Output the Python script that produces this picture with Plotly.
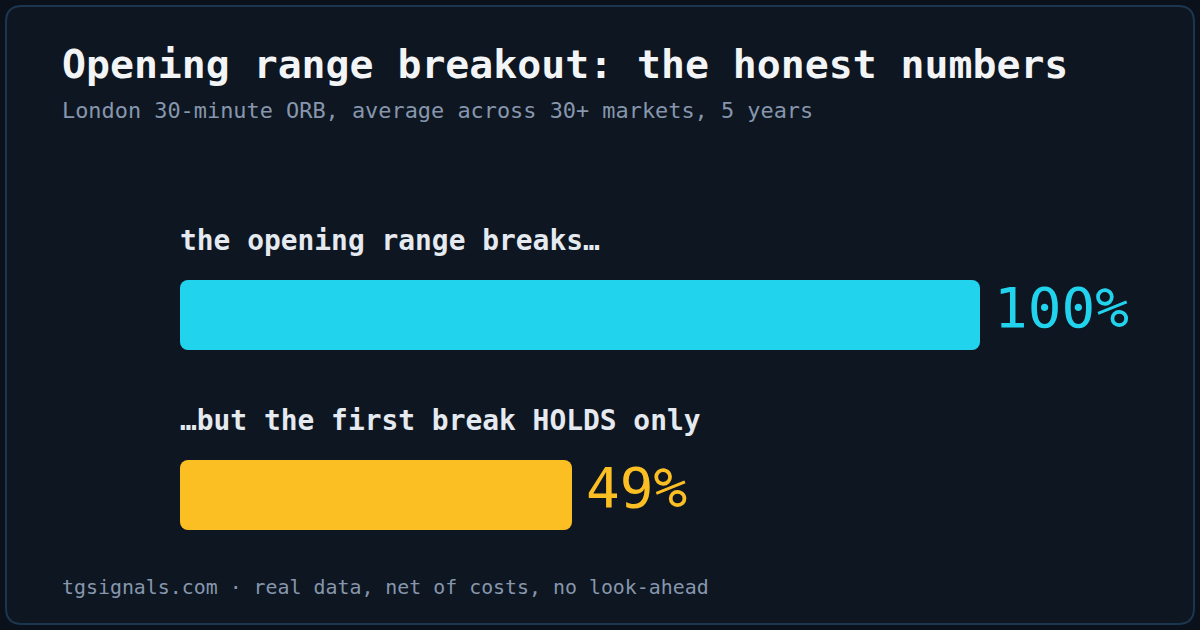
import plotly.graph_objects as go

# ---- data ----
labels = ["the opening range breaks…", "…but the first break HOLDS only"]
values = [100, 49]
value_text = ["100%", "49%"]
colors = ["#22d3ee", "#fbbf24"]
title = "Opening range breakout: the honest numbers"
subtitle = "London 30-minute ORB, average across 30+ markets, 5 years"
footer = "tgsignals.com · real data, net of costs, no look-ahead"

W, H = 1200, 630
ML, MR, MT, MB = 180, 220, 225, 45
PW, PH = W - ML - MR, H - MT - MB
FONT = "DejaVu Sans Mono, Liberation Mono, monospace"
XMAX = 100

def px_x(p):
    return (p - ML) / PW

def px_y(p):
    return (H - MB - p) / PH

ypos = list(range(len(values)))
mids = [v / 2 for v in values]

fig = go.Figure()
axis_defs = {}
# each bar is drawn as two halves growing out from its midpoint (on an axis whose
# zero sits at that midpoint), so plotly rounds both outer ends
for i, (v, m, c) in enumerate(zip(values, mids, colors)):
    ax = f"x{i + 2}"
    fig.add_trace(go.Bar(
        x=[-m, v - m], y=[i, i], orientation="h", xaxis=ax,
        marker=dict(color=c, cornerradius=8, line=dict(width=0)),
        width=70 / 180, hoverinfo="skip",
    ))
    axis_defs[f"xaxis{i + 2}"] = dict(range=[-m, XMAX - m], visible=False,
                                     fixedrange=True, overlaying="x", anchor="y")

annotations = []
for i, (lab, v, vt, c) in enumerate(zip(labels, values, value_text, colors)):
    annotations.append(dict(
        x=0, y=i, xref="x", yref="y", text=lab, showarrow=False,
        xanchor="left", yanchor="middle", yshift=75, xshift=-2,
        font=dict(family=FONT, size=27.9, color="#e5e9f0", weight="bold"),
    ))
    annotations.append(dict(
        x=v, y=i, xref="x", yref="y", text=vt, showarrow=False,
        xanchor="left", yanchor="middle", xshift=12, yshift=8,
        font=dict(family=FONT, size=56, color=c),
    ))

annotations += [
    dict(x=px_x(60), y=px_y(64), xref="paper", yref="paper", text=title,
         showarrow=False, xanchor="left", yanchor="middle",
         font=dict(family=FONT, size=39.8, color="#f3f4f6", weight="bold")),
    dict(x=px_x(60), y=px_y(110), xref="paper", yref="paper", text=subtitle,
         showarrow=False, xanchor="left", yanchor="middle",
         font=dict(family=FONT, size=21.9, color="#8796ad")),
    dict(x=px_x(60), y=px_y(587), xref="paper", yref="paper", text=footer,
         showarrow=False, xanchor="left", yanchor="middle",
         font=dict(family=FONT, size=19.9, color="#8796ad")),
]

# rounded frame in paper coordinates
x0, x1 = px_x(6), px_x(1194)
y0, y1 = px_y(624), px_y(6)
r = 16
rx, ry = r / PW, r / PH
path = (f"M {x0+rx},{y1} L {x1-rx},{y1} Q {x1},{y1} {x1},{y1-ry} "
        f"L {x1},{y0+ry} Q {x1},{y0} {x1-rx},{y0} "
        f"L {x0+rx},{y0} Q {x0},{y0} {x0},{y0+ry} "
        f"L {x0},{y1-ry} Q {x0},{y1} {x0+rx},{y1} Z")

fig.update_layout(
    width=W, height=H,
    margin=dict(l=ML, r=MR, t=MT, b=MB),
    paper_bgcolor="#0a111a", plot_bgcolor="rgba(0,0,0,0)",
    showlegend=False, barmode="overlay",
    xaxis=dict(range=[0, XMAX], visible=False, fixedrange=True),
    yaxis=dict(range=[1.5, -0.5], visible=False, fixedrange=True),
    annotations=annotations,
    shapes=[dict(type="path", path=path, xref="paper", yref="paper",
                 fillcolor="#0d1621", line=dict(color="#1d3650", width=2),
                 layer="below")],
    **axis_defs,
)

fig.write_html("out.html", config={"displayModeBar": False})
